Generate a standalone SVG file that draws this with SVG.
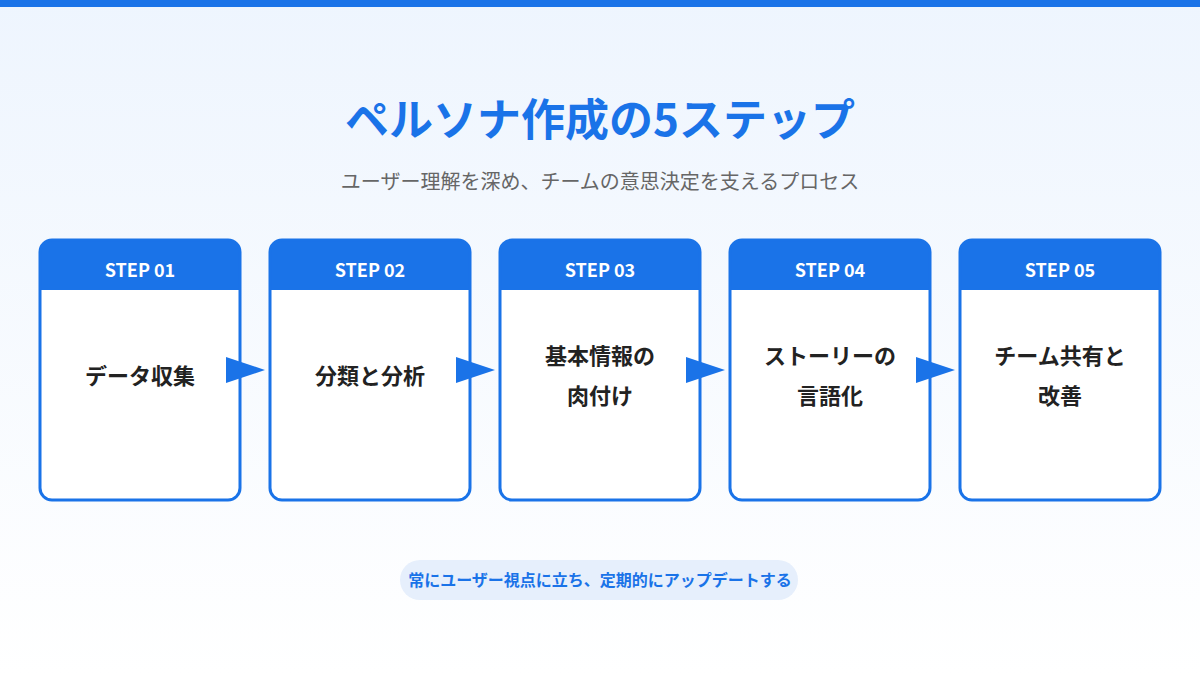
<svg xmlns="http://www.w3.org/2000/svg" width="1200" height="675" viewBox="0 0 1200 675">
<defs>
<linearGradient id="bg" x1="0" y1="0" x2="0" y2="1"><stop offset="0" stop-color="#eef5fe"/><stop offset="1" stop-color="#ffffff"/></linearGradient>
<clipPath id="cc"><rect x="0" y="0" width="200" height="260" rx="12"/></clipPath>
<style>
.f{font-family:"Noto Sans CJK JP","Noto Sans",sans-serif}
.card{fill:#fff;stroke:#1a73e8;stroke-width:3}
.hd{fill:#1a73e8}
.st{fill:#fff;font-size:18px;font-weight:700;text-anchor:middle}
.lb{fill:#222;font-size:22px;font-weight:700;text-anchor:middle}
.ar{fill:#1a73e8}
</style>
</defs>
<rect width="1200" height="675" fill="url(#bg)"/>
<rect width="1200" height="7" fill="#1a73e8"/>
<text class="f" x="600" y="136" font-size="44" font-weight="700" fill="#1a73e8" text-anchor="middle">ペルソナ作成の5ステップ</text>
<text class="f" x="600" y="189" font-size="20" fill="#666" text-anchor="middle">ユーザー理解を深め、チームの意思決定を支えるプロセス</text>
<g id="step1" transform="translate(40,240)"><g clip-path="url(#cc)"><rect width="200" height="260" fill="#fff"/><rect width="200" height="50" class="hd"/></g><rect width="200" height="260" rx="12" fill="none" stroke="#1a73e8" stroke-width="3"/><text class="f st" x="100" y="37">STEP 01</text><text class="f lb" x="100" y="144">データ収集</text></g>
<g id="step2" transform="translate(270,240)"><g clip-path="url(#cc)"><rect width="200" height="260" fill="#fff"/><rect width="200" height="50" class="hd"/></g><rect width="200" height="260" rx="12" fill="none" stroke="#1a73e8" stroke-width="3"/><text class="f st" x="100" y="37">STEP 02</text><text class="f lb" x="100" y="144">分類と分析</text></g>
<g id="step3" transform="translate(500,240)"><g clip-path="url(#cc)"><rect width="200" height="260" fill="#fff"/><rect width="200" height="50" class="hd"/></g><rect width="200" height="260" rx="12" fill="none" stroke="#1a73e8" stroke-width="3"/><text class="f st" x="100" y="37">STEP 03</text><text class="f lb" x="100" y="124">基本情報の</text><text class="f lb" x="100" y="164">肉付け</text></g>
<g id="step4" transform="translate(730,240)"><g clip-path="url(#cc)"><rect width="200" height="260" fill="#fff"/><rect width="200" height="50" class="hd"/></g><rect width="200" height="260" rx="12" fill="none" stroke="#1a73e8" stroke-width="3"/><text class="f st" x="100" y="37">STEP 04</text><text class="f lb" x="100" y="124">ストーリーの</text><text class="f lb" x="100" y="164">言語化</text></g>
<g id="step5" transform="translate(960,240)"><g clip-path="url(#cc)"><rect width="200" height="260" fill="#fff"/><rect width="200" height="50" class="hd"/></g><rect width="200" height="260" rx="12" fill="none" stroke="#1a73e8" stroke-width="3"/><text class="f st" x="100" y="37">STEP 05</text><text class="f lb" x="100" y="124">チーム共有と</text><text class="f lb" x="100" y="164">改善</text></g>
<g id="connectors">
<polygon class="ar" points="226,357 265,370 226,383"/>
<polygon class="ar" points="456,357 495,370 456,383"/>
<polygon class="ar" points="686,357 725,370 686,383"/>
<polygon class="ar" points="916,357 955,370 916,383"/>
</g>
<g id="note"><rect x="400" y="560" width="398" height="40" rx="20" fill="#e6effc"/><text class="f" x="600" y="586" font-size="16" font-weight="700" fill="#1a73e8" text-anchor="middle">常にユーザー視点に立ち、定期的にアップデートする</text></g>
</svg>
